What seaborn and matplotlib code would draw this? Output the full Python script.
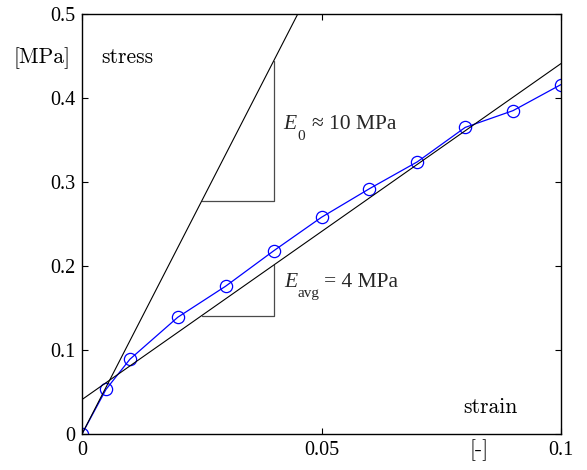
import numpy as np
import matplotlib
matplotlib.use("Agg")
import matplotlib.pyplot as plt
import seaborn as sns

# Measured stress-strain points
strain = [0.0, 0.005, 0.01, 0.02, 0.03, 0.04, 0.05, 0.06, 0.07, 0.08, 0.09, 0.10]
stress = [0.0, 0.053, 0.089, 0.139, 0.176, 0.218, 0.258, 0.292, 0.324, 0.365, 0.385, 0.416]

# Moduli of the two reference lines [MPa]
E0_slope = 11.1          # initial tangent (quoted as roughly 10 MPa)
Eavg_slope = 4.0         # average secant
Eavg_offset = 0.041

# Slope triangles span this strain interval
tri_x = [0.025, 0.04]

x_ticks = [0.0, 0.05, 0.1]
x_tick_labels = ["0", "0.05", "0.1"]
y_ticks = [0.0, 0.1, 0.2, 0.3, 0.4, 0.5]
y_tick_labels = ["0", "0.1", "0.2", "0.3", "0.4", "0.5"]

sns.set_style("ticks")
plt.rcParams["font.family"] = ["Liberation Serif", "DejaVu Serif"]

fig = plt.figure(figsize=(5.87, 4.70), dpi=100)
ax = fig.add_axes([82 / 587, 36 / 470, 479 / 587, 420 / 470])

xs = np.array([0.0, 0.1])
E0_line = lambda x: E0_slope * np.asarray(x)
Eavg_line = lambda x: Eavg_offset + Eavg_slope * np.asarray(x)

# Measured curve
sns.lineplot(x=strain, y=stress, ax=ax, color="#0000ff", lw=0.9,
             marker="o", markersize=8.8, markerfacecolor="none",
             markeredgecolor="#0000ff", markeredgewidth=0.9,
             sort=False, estimator=None, zorder=2)

# Reference lines
ax.plot(xs, E0_line(xs), color="black", lw=0.8, zorder=3)
ax.plot(xs, Eavg_line(xs), color="black", lw=0.8, zorder=3)

# Slope triangles
tri_col = "#4a4a4a"
for f in (E0_line, Eavg_line):
    y0, y1 = float(f(tri_x[0])), float(f(tri_x[1]))
    ax.plot([tri_x[0], tri_x[1], tri_x[1]], [y0, y0, y1], color=tri_col, lw=0.9, zorder=1)

ax.set_xlim(0, 0.1)
ax.set_ylim(0, 0.5)
ax.set_xticks(x_ticks)
ax.set_xticklabels(x_tick_labels)
ax.set_yticks(y_ticks)
ax.set_yticklabels(y_tick_labels)
ax.tick_params(direction="in", length=4.5, width=0.8, top=True, right=True,
               labelsize=14.5, colors="black", pad=5)
for s in ax.spines.values():
    s.set_visible(True)
    s.set_linewidth(1.0)
    s.set_color("black")

cm = dict(family="cmr10", fontsize=15.5, color="black")
ax.text(0.0041, 0.4417, "stress", ha="left", va="baseline", **cm)
ax.text(-0.0142, 0.4417, "[MPa]", ha="left", va="baseline", clip_on=False, **cm)
ax.text(0.0795, 0.0254, "strain", ha="left", va="baseline", **cm)
ax.text(0.0829, -0.025, "[-]", ha="center", va="baseline", clip_on=False, **cm)

# Modulus labels: italic E with a low subscript, then the value
def modulus_label(x_e, x_sub, x_rest, y, sub, rest):
    ax.text(x_e, y, "E", style="italic", fontsize=15.5, ha="left", va="baseline")
    ax.text(x_sub, y - 0.0125, sub, fontsize=11, ha="left", va="baseline")
    ax.text(x_rest, y, rest, fontsize=15.5, ha="left", va="baseline")

modulus_label(0.04196, 0.04489, 0.04795, 0.3627, "0", "≈ 10 MPa")
modulus_label(0.04216, 0.04489, 0.05052, 0.1754, "avg", "= 4 MPa")

fig.savefig("out.png", dpi=100)
